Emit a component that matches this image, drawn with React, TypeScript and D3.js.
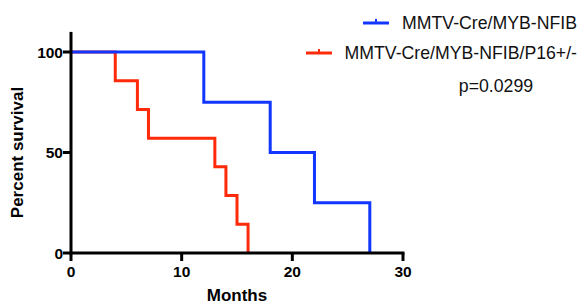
import React from "react"
import * as d3 from "d3"

// survival data (months, percent survival)
const months = [0, 4, 6, 7, 13, 14, 15, 16]
const survivalP16 = [100, 85.71, 71.43, 57.14, 42.86, 28.57, 14.29, 0]
const monthsCtrl = [0, 12, 18, 22, 27]
const survivalCtrl = [100, 75, 50, 25, 0]

const xTicks = [0, 10, 20, 30]
const yTicks = [0, 50, 100]
const seriesNames = ["MMTV-Cre/MYB-NFIB", "MMTV-Cre/MYB-NFIB/P16+/-"]
const pValue = "p=0.0299"

const BLUE = "#1036ff"
const RED = "#ff2a0a"
const FONT = "'Liberation Sans', Arial, Helvetica, sans-serif"

const W = 580
const H = 305

const App = () => {
  const x = d3.scaleLinear().domain([0, 30]).range([71, 403])
  const y = d3.scaleLinear().domain([0, 100]).range([253, 52])

  const line = d3
    .line<[number, number]>()
    .x((d) => x(d[0]))
    .y((d) => y(d[1]))
    .curve(d3.curveStepAfter)

  const ctrlPts: [number, number][] = monthsCtrl.map((m, i) => [m, survivalCtrl[i]])
  const p16Pts: [number, number][] = months.map((m, i) => [m, survivalP16[i]])

  // legend symbol: short line with a small censor tick
  const legendSym = (cx: number, cy: number, color: string) => (
    <g>
      <line x1={cx - 13} x2={cx + 13} y1={cy} y2={cy} stroke={color} strokeWidth={3} />
      <line x1={cx} x2={cx} y1={cy} y2={cy - 4} stroke={color} strokeWidth={2} />
    </g>
  )

  return (
    <svg
      width={W}
      height={H}
      style={{ position: "absolute", left: 0, top: 0, background: "#fff" }}
      fontFamily={FONT}
    >
      {/* curves */}
      <path d={line(p16Pts) || ""} fill="none" stroke={RED} strokeWidth={3} />
      <path d={line(ctrlPts) || ""} fill="none" stroke={BLUE} strokeWidth={3} />

      {/* y axis */}
      <line x1={x(0)} x2={x(0)} y1={y(0) + 1.5} y2={y(110)} stroke="#000" strokeWidth={3} />
      {yTicks.map((t) => (
        <g key={"y" + t}>
          <line x1={x(0) - 8} x2={x(0)} y1={y(t)} y2={y(t)} stroke="#000" strokeWidth={3} />
          <text
            x={x(0) - 8}
            y={y(t) + 5.5}
            textAnchor="end"
            fontSize={15.5}
            fontWeight="bold"
          >
            {t}
          </text>
        </g>
      ))}

      {/* x axis */}
      <line x1={x(0) - 1.5} x2={x(30) + 1.5} y1={y(0)} y2={y(0)} stroke="#000" strokeWidth={3} />
      {xTicks.map((t) => (
        <g key={"x" + t}>
          <line x1={x(t)} x2={x(t)} y1={y(0)} y2={y(0) + 8} stroke="#000" strokeWidth={3} />
          <text x={x(t)} y={277} textAnchor="middle" fontSize={15.5} fontWeight="bold">
            {t}
          </text>
        </g>
      ))}

      {/* axis titles */}
      <text x={237} y={301} textAnchor="middle" fontSize={17} fontWeight="bold">
        Months
      </text>
      <text
        transform={`translate(23, ${(y(0) + y(100)) / 2}) rotate(-90)`}
        textAnchor="middle"
        fontSize={17}
        fontWeight="bold"
      >
        Percent survival
      </text>

      {/* legend */}
      {legendSym(376, 23, BLUE)}
      <text x={577} y={28.5} textAnchor="end" fontSize={17.7} fill="#111">
        {seriesNames[0]}
      </text>
      {legendSym(319, 53, RED)}
      <text x={577} y={59} textAnchor="end" fontSize={17.7} fill="#111">
        {seriesNames[1]}
      </text>
      <text x={496} y={91.5} textAnchor="middle" fontSize={17.7} fill="#111">
        {pValue}
      </text>
    </svg>
  )
}

export default App
